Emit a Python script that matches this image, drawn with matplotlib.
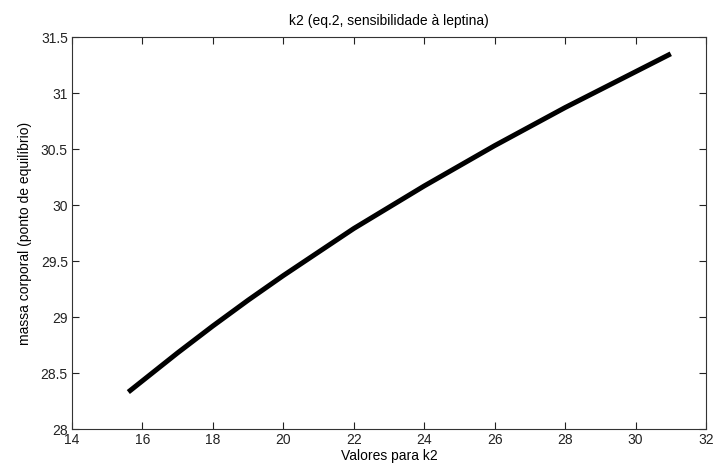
import matplotlib
matplotlib.use('Agg')
import matplotlib.pyplot as plt

plt.rcParams['font.family'] = ['Liberation Sans', 'DejaVu Sans']
plt.rcParams['font.size'] = 10

# values
k2 = [15.6, 16, 17, 18, 19, 20, 21, 22, 23, 24, 25, 26, 27, 28, 29, 30, 31]
massa = [28.33, 28.43, 28.68, 28.92, 29.15, 29.37, 29.58, 29.79, 29.98,
         30.17, 30.35, 30.53, 30.70, 30.87, 31.03, 31.19, 31.35]

xticks = [14, 16, 18, 20, 22, 24, 26, 28, 30, 32]
yticks = [28, 28.5, 29, 29.5, 30, 30.5, 31, 31.5]
ytick_labels = ['28', '28.5', '29', '29.5', '30', '30.5', '31', '31.5']

fig = plt.figure(figsize=(7.14, 4.72), dpi=100)
ax = fig.add_axes([0.1008, 0.0911, 0.888, 0.8305])

ax.plot(k2, massa, color='black', linewidth=3.6, solid_capstyle='butt',
        solid_joinstyle='round')

ax.set_xlim(14, 32)
ax.set_ylim(28, 31.5)
ax.set_xticks(xticks)
ax.set_yticks(yticks)
ax.set_yticklabels(ytick_labels)
ax.tick_params(direction='in', top=True, right=True, length=5, width=0.8,
               labelsize=10, colors='#222222', pad=3)

for s in ax.spines.values():
    s.set_color('#333333')
    s.set_linewidth(0.8)

ax.set_title('k2 (eq.2, sensibilidade à leptina)', fontsize=10, pad=9)
ax.set_xlabel('Valores para k2', fontsize=10, labelpad=1)
ax.set_ylabel('massa corporal (ponto de equilíbrio)', fontsize=10, labelpad=6)

fig.savefig('out.png', dpi=100)
